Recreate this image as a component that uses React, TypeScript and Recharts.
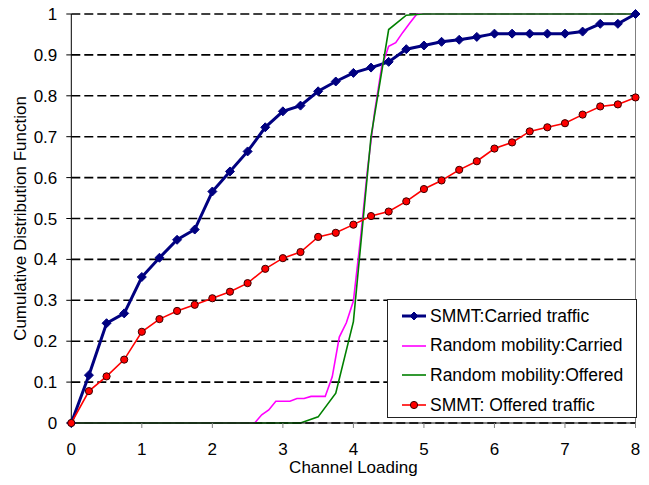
import React from "react";
import { LineChart, Line, XAxis, YAxis, CartesianGrid, Legend, ReferenceLine } from "recharts";

// SMMT series are sampled every 0.25 of channel loading
const smmtLoading = [
  0, 0.25, 0.5, 0.75, 1, 1.25, 1.5, 1.75, 2, 2.25, 2.5, 2.75, 3, 3.25, 3.5, 3.75,
  4, 4.25, 4.5, 4.75, 5, 5.25, 5.5, 5.75, 6, 6.25, 6.5, 6.75, 7, 7.25, 7.5, 7.75, 8,
];
const smmtCarried = [
  0, 0.117, 0.244, 0.268, 0.357, 0.404, 0.448, 0.473, 0.566, 0.615, 0.664, 0.723, 0.762, 0.776, 0.811, 0.835,
  0.856, 0.869, 0.883, 0.914, 0.923, 0.932, 0.937, 0.944, 0.952, 0.952, 0.952, 0.952, 0.952, 0.957, 0.976, 0.976, 1.0,
];
const smmtOffered = [
  0, 0.078, 0.114, 0.155, 0.223, 0.254, 0.274, 0.289, 0.305, 0.321, 0.342, 0.377, 0.403, 0.418, 0.455, 0.465,
  0.485, 0.506, 0.517, 0.542, 0.572, 0.593, 0.619, 0.64, 0.671, 0.686, 0.713, 0.723, 0.733, 0.754, 0.774, 0.779, 0.796,
];

const randomCarriedLoading = [
  0, 2.6, 2.7, 2.8, 2.9, 3.0, 3.1, 3.2, 3.3, 3.4, 3.5, 3.6, 3.7, 3.8, 3.9, 4.0, 4.1, 4.2, 4.3, 4.4, 4.5, 4.6, 4.7, 4.8, 4.9, 8,
];
const randomCarried = [
  0, 0, 0.02, 0.032, 0.053, 0.053, 0.053, 0.06, 0.06, 0.065, 0.065, 0.065, 0.113, 0.21, 0.245, 0.298, 0.45, 0.62, 0.76,
  0.87, 0.921, 0.93, 0.955, 0.978, 1.0, 1.0,
];

const randomOfferedLoading = [0, 3.25, 3.5, 3.75, 4.0, 4.25, 4.5, 4.75, 5.0, 8];
const randomOffered = [0, 0, 0.015, 0.073, 0.248, 0.7, 0.962, 0.997, 1.0, 1.0];

const xTicks = [0, 1, 2, 3, 4, 5, 6, 7, 8];
const yTicks = [0, 0.1, 0.2, 0.3, 0.4, 0.5, 0.6, 0.7, 0.8, 0.9, 1];

const seriesNames = [
  "SMMT:Carried traffic",
  "Random mobility:Carried",
  "Random mobility:Offered",
  "SMMT: Offered traffic",
];

const NAVY = "#000080";
const MAGENTA = "#FF00FF";
const GREEN = "#008000";
const RED = "#FF0000";
const FONT = '"Liberation Sans", Arial, sans-serif';

const blueData = smmtLoading.map((x, i) => ({ x, y: smmtCarried[i] }));
const redData = smmtLoading.map((x, i) => ({ x, y: smmtOffered[i] }));
const magentaData = randomCarriedLoading.map((x, i) => ({ x, y: randomCarried[i] }));
const greenData = randomOfferedLoading.map((x, i) => ({ x, y: randomOffered[i] }));

function diamond(cx: number, cy: number, s: number, key?: any) {
  return (
    <polygon
      key={key}
      points={`${cx},${cy - s} ${cx + s},${cy} ${cx},${cy + s} ${cx - s},${cy}`}
      fill={NAVY}
      stroke={NAVY}
      strokeWidth={1}
    />
  );
}

function redDot(cx: number, cy: number, key?: any) {
  return <circle key={key} cx={cx} cy={cy} r={3.6} fill={RED} stroke="#3a0000" strokeWidth={1} />;
}

const legendColors = [NAVY, MAGENTA, GREEN, RED];

function ChartLegend() {
  return (
    <div
      style={{
        position: "relative",
        width: 250,
        height: 119,
        boxSizing: "border-box",
        border: "1px solid #222",
        background: "#fff",
        fontFamily: FONT,
        fontSize: 17.5,
        color: "#000",
      }}
    >
      {seriesNames.map((name, i) => (
        <div
          key={name}
          style={{
            position: "absolute",
            left: 14,
            top: 1 + i * 29.7,
            height: 30,
            display: "flex",
            alignItems: "center",
            whiteSpace: "nowrap",
          }}
        >
          <svg width={26} height={12} style={{ marginRight: 2 }}>
            <line x1={0} y1={6} x2={24} y2={6} stroke={legendColors[i]} strokeWidth={i === 0 ? 3 : 1.6} />
            {i === 0 && diamond(12, 6, 4)}
            {i === 3 && redDot(12, 6)}
          </svg>
          <span>{name}</span>
        </div>
      ))}
    </div>
  );
}

export default function App() {
  return (
    <div style={{ position: "absolute", left: 0, top: 0, background: "#fff" }}>
      <LineChart
        width={649}
        height={485}
        margin={{ top: 14, right: 13.5, bottom: 0, left: 0 }}
        style={{ fontFamily: FONT }}
      >
        <CartesianGrid horizontal vertical={false} stroke="#000" strokeWidth={1.6} strokeDasharray="9 4" />
        <XAxis
          type="number"
          dataKey="x"
          domain={[0, 8]}
          ticks={xTicks}
          height={62}
          axisLine={{ stroke: "#000" }}
          tickLine={{ stroke: "#808080" }}
          tickSize={5}
          tickMargin={15}
          tick={{ fill: "#000", fontSize: 17 }}
          label={{ value: "Channel Loading", position: "insideBottom", offset: 12, fill: "#000", fontSize: 17 }}
        />
        <YAxis
          type="number"
          domain={[0, 1]}
          ticks={yTicks}
          width={71.3}
          axisLine={{ stroke: "#000" }}
          tickLine={{ stroke: "#000" }}
          tickSize={5}
          tickMargin={9}
          tickFormatter={(v: number) => String(v)}
          tick={{ fill: "#000", fontSize: 17 }}
          label={{
            value: "Cumulative Distribution Function",
            angle: -90,
            position: "insideLeft",
            offset: 20,
            fill: "#000",
            fontSize: 17,
            style: { textAnchor: "middle" },
          }}
        />
        <ReferenceLine x={8} stroke="#808080" strokeWidth={1} />
        <Line
          name={seriesNames[0]}
          data={blueData}
          dataKey="y"
          type="linear"
          stroke={NAVY}
          strokeWidth={3}
          dot={(p: any) => diamond(p.cx, p.cy, 4.5, `b${p.index}`)}
          activeDot={false}
          isAnimationActive={false}
        />
        <Line
          name={seriesNames[1]}
          data={magentaData}
          dataKey="y"
          type="linear"
          stroke={MAGENTA}
          strokeWidth={1.6}
          dot={false}
          activeDot={false}
          isAnimationActive={false}
        />
        <Line
          name={seriesNames[2]}
          data={greenData}
          dataKey="y"
          type="linear"
          stroke={GREEN}
          strokeWidth={1.6}
          dot={false}
          activeDot={false}
          isAnimationActive={false}
        />
        <Line
          name={seriesNames[3]}
          data={redData}
          dataKey="y"
          type="linear"
          stroke={RED}
          strokeWidth={1.6}
          dot={(p: any) => redDot(p.cx, p.cy, `r${p.index}`)}
          activeDot={false}
          isAnimationActive={false}
        />
        <Legend
          layout="vertical"
          align="center"
          verticalAlign="middle"
          content={() => <ChartLegend />}
          wrapperStyle={{ left: 387, top: 299, width: 250, height: 119 }}
        />
      </LineChart>
    </div>
  );
}
